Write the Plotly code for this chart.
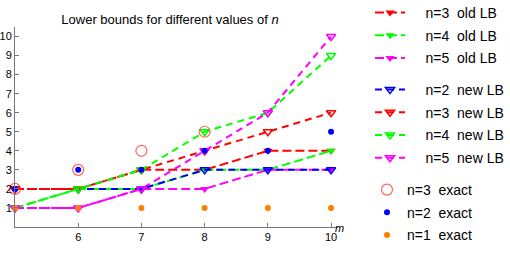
import plotly.graph_objects as go

m = [5, 6, 7, 8, 9, 10]

old_n3 = [2, 2, 3, 3, 4, 4]
old_n4 = [1, 2, 2, 3, 3, 4]
old_n5 = [1, 1, 2, 2, 3, 3]

new_n2 = [2, 2, 2, 3, 3, 3]
new_n3 = [2, 2, 3, 4, 5, 6]
new_n4 = [1, 2, 3, 5, 6, 9]
new_n5 = [1, 1, 2, 4, 6, 10]

m_exact3 = [5, 6, 7, 8]
exact_n3 = [2, 3, 4, 5]
exact_n2 = [2, 3, 3, 4, 4, 5]
exact_n1 = [1, 1, 1, 1, 1, 1]

x_ticks = [6, 7, 8, 9, 10]
y_ticks = [1, 2, 3, 4, 5, 6, 7, 8, 9, 10]

RED = "rgb(255,0,0)"
GREEN = "rgb(0,255,0)"
MAG = "rgb(255,0,255)"
BLUE = "rgb(0,0,255)"
ORANGE = "rgb(255,128,0)"

NB = "&nbsp;"

def lab(n, kind, pad=True):
    s = f"n={n}{NB}{NB}{kind}"
    return (NB * 4 + s) if pad else s

fig = go.Figure()

def old(y, n, col):
    fig.add_trace(go.Scatter(
        x=m, y=y, name=lab(n, f"old{NB}LB"), mode="lines+markers",
        legend="legend", legendgroup=f"old{n}",
        line=dict(color=col, width=2, dash="9px,4px"),
        marker=dict(symbol="triangle-down", size=8, color=col),
        cliponaxis=False))

def new(y, n, col):
    fig.add_trace(go.Scatter(
        x=m, y=y, name=lab(n, f"new{NB}LB"), mode="lines+markers",
        legend="legend2", legendgroup=f"new{n}",
        line=dict(color=col, width=2, dash="7px,5px"),
        marker=dict(symbol="triangle-down-open", size=8, color=col,
                    line=dict(width=1.5, color=col)),
        cliponaxis=False))

old(old_n3, 3, RED)
old(old_n4, 4, GREEN)
old(old_n5, 5, MAG)
new(new_n2, 2, BLUE)
new(new_n3, 3, RED)
new(new_n4, 4, GREEN)
new(new_n5, 5, MAG)

fig.add_trace(go.Scatter(
    x=m_exact3, y=exact_n3, name=lab(3, "exact", False), mode="markers",
    legend="legend3", legendgroup="ex3",
    marker=dict(symbol="circle-open", size=11, color="rgba(255,60,60,0.8)",
                line=dict(width=1.2)), cliponaxis=False))
fig.add_trace(go.Scatter(
    x=m, y=exact_n2, name=lab(2, "exact", False), mode="markers",
    legend="legend3", legendgroup="ex2",
    marker=dict(symbol="circle", size=6, color=BLUE), cliponaxis=False))
fig.add_trace(go.Scatter(
    x=m, y=exact_n1, name=lab(1, "exact", False), mode="markers",
    legend="legend3", legendgroup="ex1",
    marker=dict(symbol="circle", size=6, color=ORANGE), cliponaxis=False))

L, R, T, B = 15, 172, 27, 28
pw = 510 - L - R
ph = 255 - T - B

def px2x(p):
    return (p - L) / pw

def py2y(p):
    return 1 - (p - T) / ph

legfont = dict(family="Liberation Sans, Arial, sans-serif", size=14, color="#000")
legcommon = dict(xanchor="left", yanchor="top", font=legfont,
                 bgcolor="rgba(0,0,0,0)", traceorder="grouped",
                 tracegroupgap=1.5, itemsizing="trace")

fig.update_layout(
    width=510, height=255,
    margin=dict(l=L, r=R, t=T, b=B, autoexpand=False),
    paper_bgcolor="white", plot_bgcolor="white",
    font=dict(family="Liberation Sans, Arial, sans-serif", size=11, color="#000"),
    title=dict(text="Lower bounds for different values of <i>n</i>",
               x=170 / 510, xanchor="center", y=1 - 19 / 255, yanchor="middle",
               font=dict(size=13, color="#000")),
    xaxis=dict(range=[5, 10.11], tickvals=x_ticks, ticktext=[str(v) for v in x_ticks],
               showgrid=False, zeroline=False, showline=True, linecolor="#777",
               linewidth=1, ticks="inside", ticklen=4, tickcolor="#777",
               tickfont=dict(size=11), automargin=False),
    yaxis=dict(range=[0, 10.5], tickvals=y_ticks, ticktext=[str(v) for v in y_ticks],
               showgrid=False, zeroline=False, showline=True, linecolor="#777",
               linewidth=1, ticks="inside", ticklen=4, tickcolor="#777",
               tickfont=dict(size=11), automargin=False),
    legend=dict(x=px2x(370), y=py2y(-3), **legcommon),
    legend2=dict(x=px2x(370), y=py2y(74), **legcommon),
    legend3=dict(x=px2x(367), y=py2y(174), **legcommon),
    annotations=[dict(text="<i>m</i>", x=px2x(339), y=py2y(228), xref="paper",
                      yref="paper", showarrow=False, xanchor="center",
                      yanchor="middle", font=dict(size=11))],
)

fig.write_html("out.html", config={"displayModeBar": False},
               post_script="document.body.style.margin='0';document.body.style.overflow='hidden';")
